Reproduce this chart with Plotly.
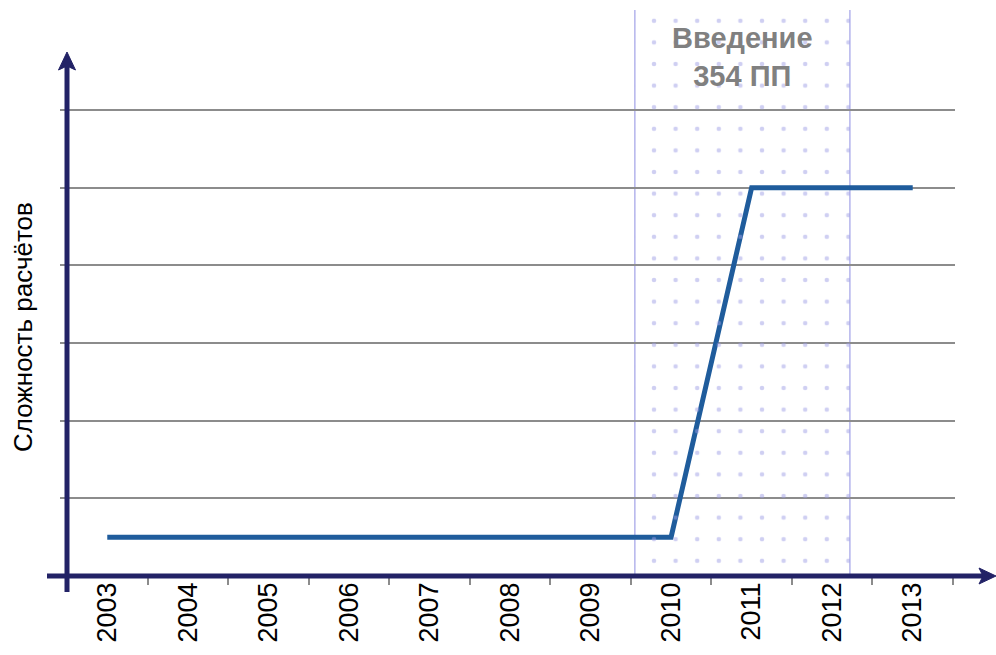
import plotly.graph_objects as go

# ---- data ----
years = ["2003", "2004", "2005", "2006", "2007", "2008", "2009", "2010", "2011", "2012", "2013"]
complexity = [0.5, 0.5, 0.5, 0.5, 0.5, 0.5, 0.5, 0.5, 5, 5, 5]
grid_levels = [0, 1, 2, 3, 4, 5, 6]
period_start = 2009.55   # introduction of 354 PP (year fraction)
period_end = 2012.22
period_label = "<b>Введение</b><br><b>354 ПП</b>"
y_title = "Сложность расчётов"

# ---- layout constants (pixels) ----
W, H = 996, 655
L, R, T, B = 60, 955, 10, 576
PW, PH = R - L, B - T
unit_x = (953 - 67) / 11.0
unit_y = 77.67
x_lo = -0.5 - (67 - L) / unit_x
x_hi = x_lo + PW / unit_x
y_top = PH / unit_y

def px(p):
    return (p - L) / PW

def py(p):
    return (B - p) / PH

NAVY = "#222266"
LINE = "#1f5c9c"
GRID = "#8c8c8c"
LAV = "#b4b4ec"
DOT = "#9f9fe6"

base = int(years[0])
x0 = period_start - base
x1 = period_end - base

fig = go.Figure()

# patterned period region
fig.add_trace(go.Scatter(
    x=[x0, x1, x1, x0, x0], y=[0, 0, y_top, y_top, 0],
    xaxis="x2", mode="lines", line=dict(width=0), fill="toself",
    fillcolor="rgba(0,0,0,0)",
    fillpattern=dict(shape=".", size=21.6, solidity=0.035, fgcolor=DOT,
                     bgcolor="rgba(0,0,0,0)", fillmode="overlay"),
    hoverinfo="skip", showlegend=False,
))

# main line
fig.add_trace(go.Scatter(
    x=years, y=complexity, mode="lines",
    line=dict(color=LINE, width=5), showlegend=False,
))

shapes = []
# period edges
for xv in (x0, x1):
    shapes.append(dict(type="line", xref="x2", yref="paper", x0=xv, x1=xv, y0=0, y1=1,
                       line=dict(color=LAV, width=1.5), layer="below"))
# axes with arrows
shapes.append(dict(type="line", xref="paper", yref="paper", x0=px(67), x1=px(67),
                   y0=py(592), y1=py(64), line=dict(color=NAVY, width=5), layer="above"))
shapes.append(dict(type="path", xref="paper", yref="paper",
                   path=f"M {px(67)} {py(52)} L {px(58.5)} {py(70)} L {px(67)} {py(66)} L {px(75.5)} {py(70)} Z",
                   fillcolor=NAVY, line=dict(color=NAVY, width=1), layer="above"))
shapes.append(dict(type="line", xref="paper", yref="paper", x0=px(47), x1=px(984),
                   y0=py(576), y1=py(576), line=dict(color=NAVY, width=5), layer="above"))
shapes.append(dict(type="path", xref="paper", yref="paper",
                   path=f"M {px(996)} {py(576)} L {px(979)} {py(568)} L {px(983)} {py(576)} L {px(979)} {py(584)} Z",
                   fillcolor=NAVY, line=dict(color=NAVY, width=1), layer="above"))

fig.update_layout(
    width=W, height=H,
    margin=dict(l=L, r=W - R, t=T, b=H - B),
    paper_bgcolor="white", plot_bgcolor="white",
    font=dict(family="Liberation Sans, Arial, sans-serif", color="black"),
    xaxis=dict(type="category", categoryorder="array", categoryarray=years,
               range=[x_lo, x_hi], tickson="boundaries", ticks="outside",
               ticklen=8, tickwidth=1.5, tickcolor=GRID, tickangle=-90,
               tickfont=dict(size=27, color="black"), showgrid=False,
               showline=False, zeroline=False, fixedrange=True),
    xaxis2=dict(overlaying="x", range=[x_lo, x_hi], visible=False, fixedrange=True),
    yaxis=dict(range=[0, y_top], tickvals=grid_levels, showticklabels=False,
               ticks="", showgrid=True, gridcolor=GRID, gridwidth=2,
               zeroline=False, showline=False, fixedrange=True),
    shapes=shapes,
    annotations=[
        dict(text=period_label, xref="x2", yref="paper", x=(x0 + x1) / 2, y=py(57),
             xanchor="center", yanchor="middle", showarrow=False,
             font=dict(size=29, color="#808080")),
        dict(text=y_title, xref="paper", yref="paper", x=px(23), y=py(327),
             xanchor="center", yanchor="middle", textangle=-90, showarrow=False,
             font=dict(size=26, color="black")),
    ],
)

fig.write_html("out.html", config={"displayModeBar": False},
               post_script="document.body.style.margin='0';document.body.style.padding='0';")
